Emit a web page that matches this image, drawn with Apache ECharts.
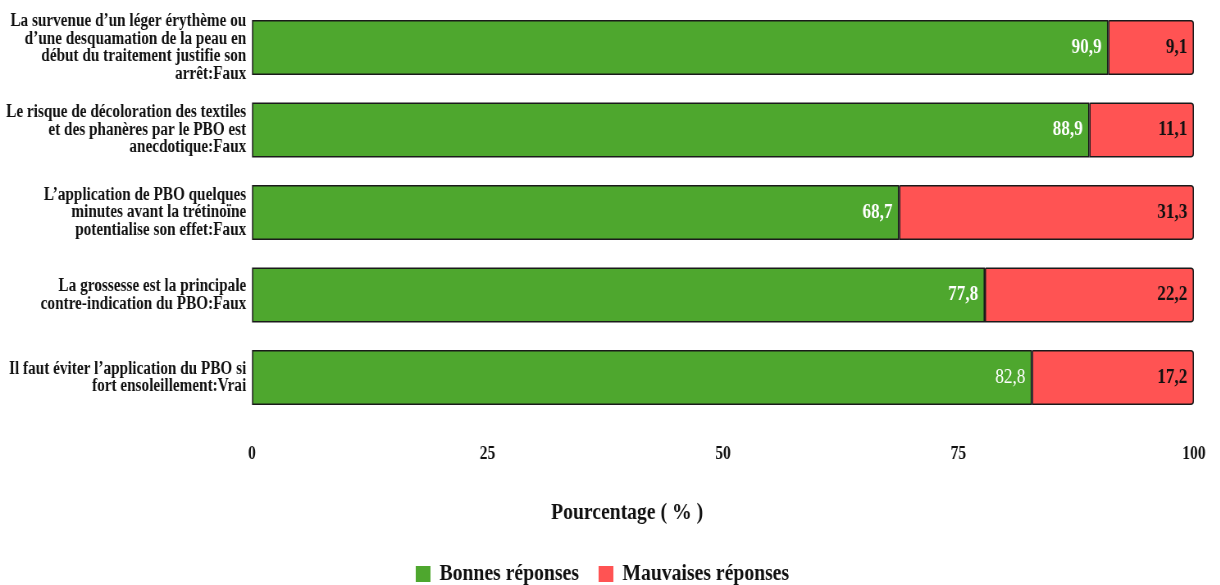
<!DOCTYPE html>
<html>
<head>
<meta charset="utf-8">
<script src="https://cdn.jsdelivr.net/npm/echarts@6/dist/echarts.min.js"></script>
<style>
  html, body { margin: 0; padding: 0; background: #fff; overflow: hidden; }
  #wrap { width: 1220px; height: 585px; overflow: hidden; }
  #chart { width: 1488px; height: 585px; transform: scaleX(0.82); transform-origin: 0 0; }
</style>
</head>
<body>
<div id="wrap"><div id="chart"></div></div>
<script>
const categories = [
  "La survenue d’un léger érythème ou\nd’une desquamation de la peau en\ndébut du traitement justifie son\narrêt:Faux",
  "Le risque de décoloration des textiles\net des phanères par le PBO est\nanecdotique:Faux",
  "L’application de PBO quelques\nminutes avant la trétinoïne\npotentialise son effet:Faux",
  "La grossesse est la principale\ncontre-indication du PBO:Faux",
  "Il faut éviter l’application du PBO si\nfort ensoleillement:Vrai"
];
const seriesNames = ["Bonnes réponses", "Mauvaises réponses"];
const goodValues = [90.9, 88.9, 68.7, 77.8, 82.8];
const badValues = [9.1, 11.1, 31.3, 22.2, 17.2];
const xTicks = [0, 25, 50, 75, 100];
const axisTitle = "Pourcentage ( % )";

const FONT = '"Liberation Serif", "Times New Roman", serif';
const fmt = p => p.value.toFixed(1).replace('.', ',');

const chart = echarts.init(document.getElementById('chart'), null, { renderer: 'canvas' });
chart.setOption({
  animation: false,
  textStyle: { fontFamily: FONT },
  color: ['#4EA72E', '#FF5353'],
  grid: { left: 307.3, right: 32, top: 6.25, height: 412.5, containLabel: false },
  title: {
    text: axisTitle,
    left: 667, top: 496,
    textStyle: { fontFamily: FONT, fontSize: 24, fontWeight: 'bold', color: '#111' }
  },
  legend: {
    data: seriesNames,
    left: 502, top: 557,
    icon: 'rect',
    itemWidth: 18, itemHeight: 16,
    itemGap: 24,
    itemStyle: { borderWidth: 0 },
    textStyle: { fontFamily: FONT, fontSize: 24, fontWeight: 'bold', color: '#111', padding: [0, 0, 0, 6] }
  },
  xAxis: {
    type: 'value',
    min: xTicks[0], max: xTicks[xTicks.length - 1], interval: 25,
    axisLine: { show: false },
    axisTick: { show: false },
    splitLine: { show: false },
    axisLabel: { fontFamily: FONT, fontSize: 19, fontWeight: 'bold', color: '#111', margin: 26 }
  },
  yAxis: {
    type: 'category',
    data: categories,
    inverse: true,
    axisLine: { show: false },
    axisTick: { show: false },
    axisLabel: {
      fontFamily: FONT, fontSize: 18.6, fontWeight: 'bold', color: '#111',
      lineHeight: 17.5, align: 'right', margin: 7
    }
  },
  series: [
    {
      name: seriesNames[0], type: 'bar', stack: 'total', barWidth: 55,
      itemStyle: { color: '#4EA72E', borderColor: '#1a1a1a', borderWidth: 1.5 },
      label: {
        show: true, position: 'insideRight', distance: 8,
        fontFamily: FONT, fontSize: 21, fontWeight: 'bold', color: '#fff', formatter: fmt
      },
      data: goodValues.map((v, i) => i === goodValues.length - 1 ? { value: v, label: { fontWeight: 'normal' } } : v)
    },
    {
      name: seriesNames[1], type: 'bar', stack: 'total', barWidth: 55,
      itemStyle: { color: '#FF5353', borderColor: '#1a1a1a', borderWidth: 1.5, borderRadius: [0, 3, 3, 0] },
      label: {
        show: true, position: 'insideRight', distance: 8,
        fontFamily: FONT, fontSize: 21, fontWeight: 'bold', color: '#111', formatter: fmt
      },
      data: badValues
    }
  ]
});
</script>
</body>
</html>
